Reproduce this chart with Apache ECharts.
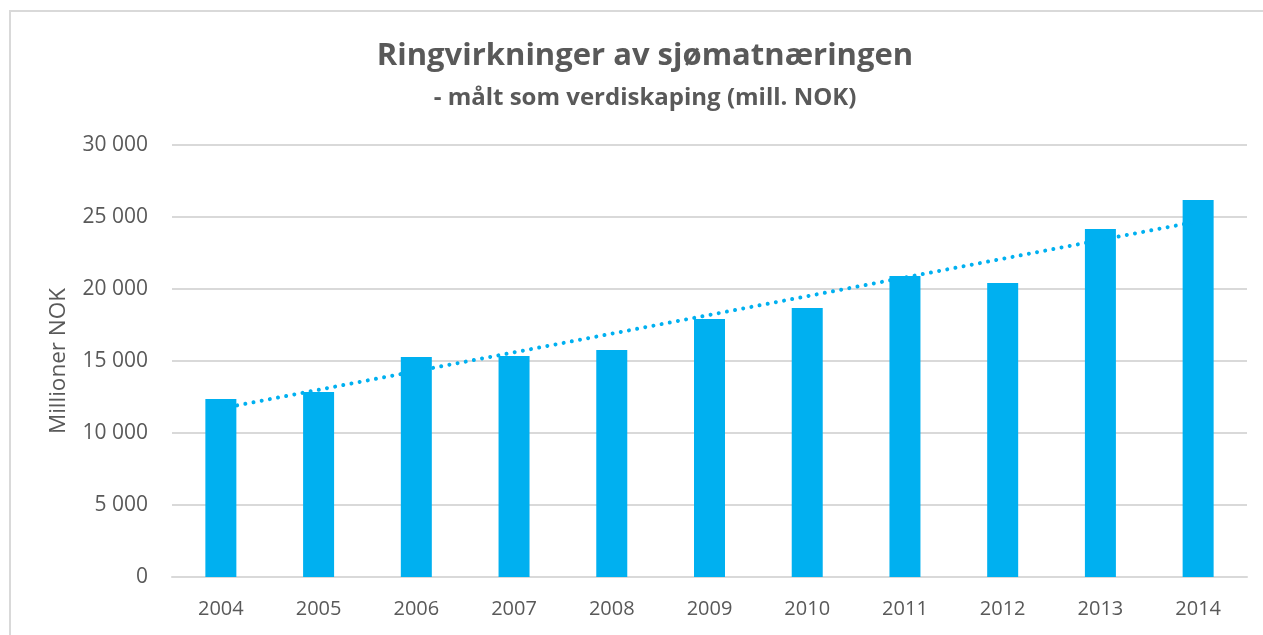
<!DOCTYPE html>
<html>
<head>
<meta charset="utf-8">
<script src="https://cdn.jsdelivr.net/npm/echarts@6/dist/echarts.min.js"></script>
<style>
  html, body { margin: 0; padding: 0; background: #ffffff; }
  #frame { position: absolute; left: 9px; top: 10px; width: 1300px; height: 700px;
           border-left: 2px solid #D9D9D9; border-top: 2px solid #D9D9D9; box-sizing: border-box; }
  #chart { position: absolute; left: 0; top: 0; width: 1263px; height: 635px; }
</style>
</head>
<body>
<div id="frame"></div>
<div id="chart"></div>
<script>
const titleText = 'Ringvirkninger av sjømatnæringen';
const subtitleText = '- målt som verdiskaping (mill. NOK)';
const yAxisName = 'Millioner NOK';
const years = ['2004', '2005', '2006', '2007', '2008', '2009', '2010', '2011', '2012', '2013', '2014'];
const values = [12360, 12850, 15280, 15350, 15760, 17920, 18680, 20900, 20420, 24170, 26180];
// linear trendline at the first and last year
const trendStart = 11700;
const trendEnd = 24700;
const yTicks = { min: 0, max: 30000, interval: 5000 };

const trend = years.map((y, i) => i === 0 ? trendStart : (i === years.length - 1 ? trendEnd : '-'));

const textColor = '#595959';
const fontFamily = '"Open Sans", "Noto Sans", sans-serif';

const chart = echarts.init(document.getElementById('chart'), null, { renderer: 'canvas' });
chart.setOption({
  animation: false,
  backgroundColor: 'transparent',
  title: {
    text: titleText,
    subtext: subtitleText,
    left: 640,
    textAlign: 'center',
    top: 36,
    itemGap: 14,
    textStyle: { color: textColor, fontSize: 31, fontWeight: 'bold', fontFamily: fontFamily },
    subtextStyle: { color: textColor, fontSize: 24, fontWeight: 'bold', fontFamily: fontFamily }
  },
  grid: { left: 172, right: 16, top: 145, bottom: 58, containLabel: false },
  xAxis: {
    type: 'category',
    data: years,
    axisLine: { show: true, lineStyle: { color: '#D9D9D9', width: 2 } },
    axisTick: { show: false },
    axisLabel: { color: textColor, fontSize: 20, fontFamily: fontFamily, margin: 22 }
  },
  yAxis: {
    type: 'value',
    min: yTicks.min, max: yTicks.max, interval: yTicks.interval,
    name: yAxisName,
    nameLocation: 'middle',
    nameGap: 102,
    nameTextStyle: { color: textColor, fontSize: 22.5, fontFamily: fontFamily },
    axisLine: { show: false },
    axisTick: { show: false },
    axisLabel: {
      color: textColor, fontSize: 21, fontFamily: fontFamily, margin: 24,
      formatter: v => String(v).replace(/\B(?=(\d{3})+(?!\d))/g, ' ')
    },
    splitLine: { show: true, lineStyle: { color: '#D9D9D9', width: 2 } }
  },
  series: [
    {
      type: 'bar',
      data: values,
      barWidth: 31,
      itemStyle: { color: '#00B0F0' }
    },
    {
      type: 'line',
      data: trend,
      connectNulls: true,
      symbol: 'none',
      lineStyle: { color: '#00B0F0', width: 4, type: [0.01, 8.3], cap: 'round' },
      z: 5
    }
  ]
});
</script>
</body>
</html>
